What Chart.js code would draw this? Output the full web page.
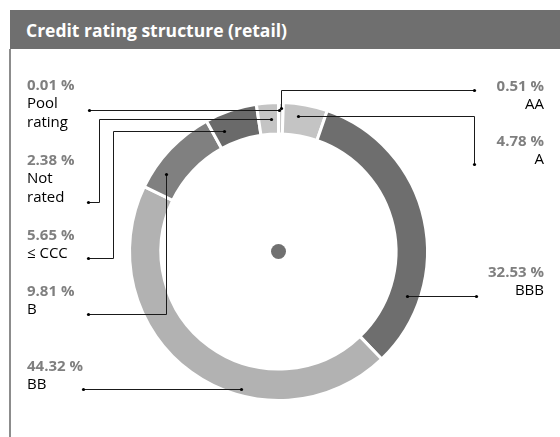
<!DOCTYPE html>
<html lang="en">
<head>
<meta charset="UTF-8">
<title>Credit rating structure (retail)</title>
<script src="https://cdn.jsdelivr.net/npm/chart.js"></script>
<style>
  body { margin: 0; width: 560px; height: 437px; position: relative; overflow: hidden; background: #fff; font-family: "Open Sans", sans-serif; }
  #titleBar { position: absolute; left: 10px; top: 10px; width: 550px; height: 39px; background: #6f6f6f; }
  #titleText { position: absolute; left: 26px; top: 20px; font-size: 17.5px; line-height: 20px; font-weight: bold; color: #fff; white-space: nowrap; }
  #frame { position: absolute; left: 9px; top: 49px; width: 2px; height: 388px; background: #8c8c8c; }
  #chartBox { position: absolute; left: 0; top: 0; }
  .lbl { position: absolute; font-size: 15px; line-height: 18.4px; }
  .lbl .pct { color: #7f7f7f; font-weight: bold; white-space: nowrap; }
  .lbl .name { color: #000; width: 58px; }
  .lbl.right { text-align: right; }
  .lbl.right .name { width: auto; }
</style>
</head>
<body>
<div id="titleBar"></div>
<div id="titleText">Credit rating structure (retail)</div>
<div id="frame"></div>
<div id="chartBox"><canvas id="ratingChart" width="560" height="437"></canvas></div>
<div id="labels"></div>
<script>
// data
var categories = ['Pool rating', 'AA', 'A', 'BBB', 'BB', 'B', '\u2264 CCC', 'Not rated'];
var shares = [0.01, 0.51, 4.78, 32.53, 44.32, 9.81, 5.65, 2.38];
var colors = ['#c4c4c4', '#c4c4c4', '#c4c4c4', '#6e6e6e', '#b2b2b2', '#808080', '#6a6a6a', '#c4c4c4'];

// where each label sits (first baseline) and how its leader line runs
var labelPos = [
  { side: 'left',  x: 27,  base: 90,  lx: 89,  ly: 110, ex: null, frac: 0.5,  rf: 0.75 },
  { side: 'right', x: 16,  base: 91,  lx: 474, ly: 90,  ex: 'ring', frac: 0.63, rf: 0.84 },
  { side: 'right', x: 16,  base: 146, lx: 474, ly: 164, ex: 474,  frac: 0.36, rf: 0.6 },
  { side: 'right', x: 16,  base: 277, lx: 476, ly: 296, ex: 'ring', frac: 0.77, rf: 0.58 },
  { side: 'left',  x: 27,  base: 371, lx: 83,  ly: 389, ex: 'ring', frac: 0.37, rf: 0.78 },
  { side: 'left',  x: 27,  base: 296, lx: 88,  ly: 314, ex: 'ring', frac: 0.25, rf: 0.59 },
  { side: 'left',  x: 27,  base: 240, lx: 88,  ly: 258, ex: 113,  frac: 0.23, rf: 0.46 },
  { side: 'left',  x: 27,  base: 165, lx: 88,  ly: 202, ex: 99,   frac: 0.6,  rf: 0.48 }
];

document.addEventListener('DOMContentLoaded', function() {
    var box = document.getElementById('labels');
    categories.forEach(function(cat, i) {
        var p = labelPos[i];
        var div = document.createElement('div');
        div.className = 'lbl ' + p.side;
        div.style.top = (p.base - 15) + 'px';
        if (p.side === 'left') div.style.left = p.x + 'px';
        else div.style.right = p.x + 'px';
        div.innerHTML = '<div class="pct">' + shares[i].toFixed(2) + ' %</div><div class="name">' + cat + '</div>';
        box.appendChild(div);
    });

    var leaders = {
        id: 'leaders',
        afterDraw: function(chart) {
            var ctx = chart.ctx;
            var arcs = chart.getDatasetMeta(0).data;
            ctx.save();
            arcs.forEach(function(arc, i) {
                var p = labelPos[i];
                var a = arc.getProps(['x', 'y', 'startAngle', 'endAngle', 'innerRadius', 'outerRadius'], true);
                var ang = a.startAngle + p.frac * (a.endAngle - a.startAngle);
                var r = a.innerRadius + p.rf * (a.outerRadius - a.innerRadius);
                var rx = Math.round(a.x + r * Math.cos(ang)) + 0.5;
                var ry = Math.round(a.y + r * Math.sin(ang)) + 0.5;
                var lx = p.lx + 0.5, ly = p.ly + 0.5;
                var ex = (p.ex === 'ring' || p.ex === null) ? rx : p.ex + 0.5;
                ctx.strokeStyle = '#1a1a1a';
                ctx.lineWidth = 1;
                ctx.beginPath();
                ctx.moveTo(lx, ly);
                if (p.ex === null) {
                    ctx.lineTo(rx, ly);
                } else {
                    ctx.lineTo(ex, ly);
                    ctx.lineTo(ex, ry);
                    ctx.lineTo(rx, ry);
                }
                ctx.stroke();
                ctx.fillStyle = '#000';
                [[lx, ly], [rx, p.ex === null ? ly : ry]].forEach(function(pt) {
                    ctx.beginPath();
                    ctx.arc(pt[0], pt[1], 1.6, 0, Math.PI * 2);
                    ctx.fill();
                });
            });
            // centre dot
            var c = arcs[0];
            ctx.fillStyle = '#707070';
            ctx.beginPath();
            ctx.arc(c.x, c.y, 7.5, 0, Math.PI * 2);
            ctx.fill();
            ctx.restore();
        }
    };

    new Chart(document.getElementById('ratingChart').getContext('2d'), {
        type: 'doughnut',
        data: {
            labels: categories,
            datasets: [{
                data: shares,
                backgroundColor: colors,
                borderColor: '#ffffff',
                borderWidth: 3
            }]
        },
        options: {
            responsive: false,
            animation: false,
            cutout: '78.9%',
            layout: { padding: { left: 128, right: 131, top: 101, bottom: 35 } },
            plugins: { legend: { display: false }, tooltip: { enabled: false } }
        },
        plugins: [leaders]
    });
});
</script>
</body>
</html>
